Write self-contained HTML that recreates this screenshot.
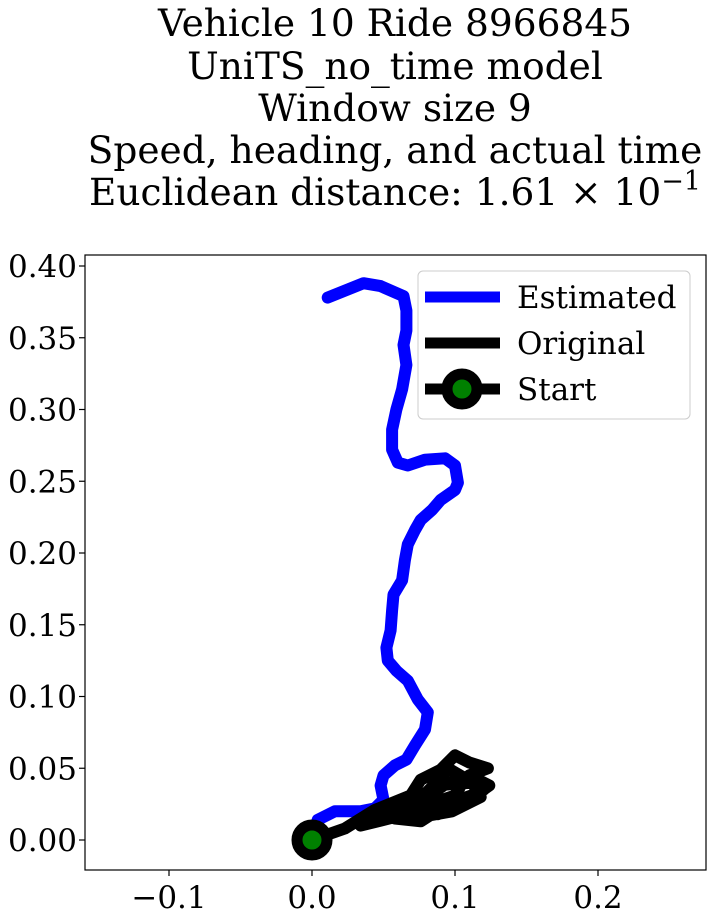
<!DOCTYPE html>
<html><head><meta charset="utf-8"><style>
body{margin:0;background:#fff;}
svg text{font-family:"DejaVu Serif","Liberation Serif",serif;}
</style></head><body>
<svg id="chart" width="713" height="918" xmlns="http://www.w3.org/2000/svg">
<g font-size="37.5" text-anchor="middle" fill="#000">
<text x="395" y="36">Vehicle 10 Ride 8966845</text>
<text x="395" y="79">UniTS_no_time model</text>
<text x="395" y="121">Window size 9</text>
<text x="395" y="163">Speed, heading, and actual time</text>
<text x="395" y="205">Euclidean distance: 1.61 × 10<tspan dy="-15" font-size="27">−1</tspan></text>
</g>
<g id="plot"></g>
</svg>
<script>
const estX=[0.011,0.036,0.048,0.064,0.066,0.066,0.064,0.066,0.063,0.059,0.056,0.056,0.060,0.067,0.079,0.093,0.100,0.102,0.100,0.090,0.084,0.076,0.072,0.067,0.065,0.063,0.057,0.056,0.055,0.052,0.053,0.059,0.067,0.074,0.081,0.079,0.072,0.066,0.058,0.050,0.048,0.050,0.044,0.034,0.016,0.004,0];
const estY=[0.378,0.388,0.386,0.379,0.369,0.355,0.345,0.331,0.314,0.300,0.286,0.272,0.263,0.261,0.265,0.266,0.261,0.249,0.244,0.237,0.230,0.223,0.216,0.206,0.195,0.181,0.171,0.160,0.146,0.134,0.125,0.118,0.111,0.098,0.089,0.077,0.066,0.056,0.052,0.045,0.038,0.028,0.022,0.020,0.020,0.014,0];
const origX=[0,0.023,0.044,0.069,0.076,0.090,0.100,0.110,0.123,0.110,0.124,0.117,0.103,0.090,0.076,0.058,0.069,0.083,0.095,0.107,0.100,0.079,0.062,0.034,0.080,0.095,0.115,0.120,0.105,0.088,0.075,0.085,0.112,0.118,0.098,0.070];
const origY=[0,0.008,0.021,0.031,0.042,0.049,0.059,0.054,0.050,0.045,0.038,0.033,0.028,0.022,0.013,0.015,0.021,0.035,0.050,0.043,0.031,0.024,0.017,0.010,0.030,0.040,0.044,0.035,0.025,0.018,0.028,0.038,0.040,0.030,0.020,0.015];
const xTicks=[-0.1,0.0,0.1,0.2];
const xTickLabels=["−0.1","0.0","0.1","0.2"];
const yTicks=[0,0.05,0.1,0.15,0.2,0.25,0.3,0.35,0.4];
const yTickLabels=["0.00","0.05","0.10","0.15","0.20","0.25","0.30","0.35","0.40"];
const startPt=[0,0];

const L=85,R=706,T=255,B=870;
const sx=v=>312+v*1430;
const sy=v=>840-v*1435;
const NS="http://www.w3.org/2000/svg";
const g=document.getElementById('plot');
function mk(tag,attrs,parent){const e=document.createElementNS(NS,tag);for(const k in attrs)e.setAttribute(k,attrs[k]);(parent||g).appendChild(e);return e;}
const clip=mk('clipPath',{id:'cp'});mk('rect',{x:L,y:T,width:R-L,height:B-T},clip);
function line(xs,ys,color,name){
  const d=xs.map((x,i)=>(i?'L':'M')+sx(x).toFixed(1)+' '+sy(ys[i]).toFixed(1)).join(' ');
  const p=mk('path',{d:d,fill:'none',stroke:color,'stroke-width':12,'stroke-linejoin':'round','stroke-linecap':'round','clip-path':'url(#cp)'});
  
  
}
line(estX,estY,'#0000ff','estimated-line');
line(origX,origY,'#000','original-line');
const sm=mk('circle',{cx:sx(startPt[0]),cy:sy(startPt[1]),r:15,fill:'#008000',stroke:'#000','stroke-width':11});


const fr=mk('rect',{x:L,y:T,width:R-L,height:B-T,fill:'none',stroke:'#000','stroke-width':1.2});


xTicks.forEach((v,i)=>{
  const x=sx(v);
  mk('line',{x1:x,x2:x,y1:B,y2:B+6,stroke:'#000','stroke-width':1.2});
  const t=mk('text',{x:x,y:B+38,'font-size':31,'text-anchor':'middle'});
  t.textContent=xTickLabels[i];
  
  
});
yTicks.forEach((v,i)=>{
  const y=sy(v);
  mk('line',{x1:L-6,x2:L,y1:y,y2:y,stroke:'#000','stroke-width':1.2});
  const t=mk('text',{x:L-8,y:y+11,'font-size':31,'text-anchor':'end'});
  t.textContent=yTickLabels[i];
  
  
});
const lg=mk('g',{});


mk('rect',{x:418,y:271,width:272,height:148,rx:5,fill:'#fff','fill-opacity':0.8,stroke:'#ccc','stroke-width':1},lg);
const entries=[['Estimated','#0000ff',false],['Original','#000',false],['Start','#000',true]];
entries.forEach((e,i)=>{
  const y=297+i*46;
  const eg=mk('g',{},lg);
  
  
  mk('line',{x1:425,x2:500,y1:y,y2:y,stroke:e[1],'stroke-width':11},eg);
  if(e[2])mk('circle',{cx:462,cy:y,r:15,fill:'#008000',stroke:'#000','stroke-width':11},eg);
  const t=mk('text',{x:517,y:y+11,'font-size':31},eg);t.textContent=e[0];
});
</script>
</body></html>
